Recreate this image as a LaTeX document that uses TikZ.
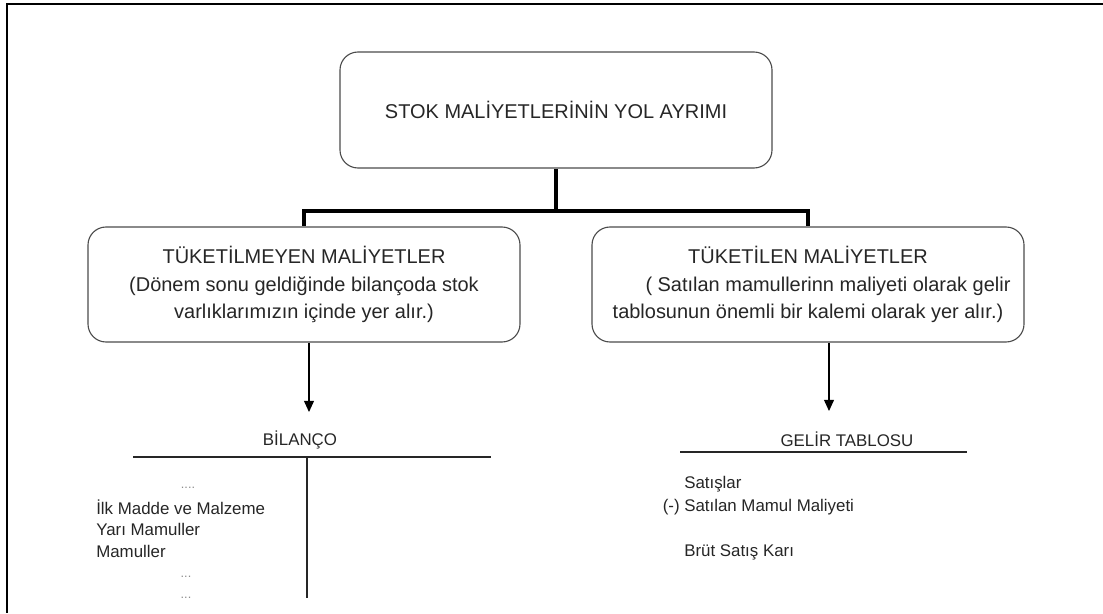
\documentclass[tikz,border=0pt]{standalone}
\usepackage{fontspec}
\setmainfont{Liberation Sans}
\usetikzlibrary{arrows.meta, positioning, calc}

\tikzset{
    costbox/.style={draw=black!70, line width=0.8pt, rounded corners=0.45cm, align=center,
        minimum width=10.8cm, minimum height=2.9cm, inner sep=0pt, text=black!85,
        font=\fontsize{14.2pt}{19.6pt}\selectfont},
    trunk/.style={line width=2.2pt},
    flow/.style={line width=0.8pt, -{Triangle[length=0.28cm, width=0.25cm]}},
    ledger/.style={line width=0.8pt, black!85},
    entry/.style={inner sep=0pt, text=black!85, font=\fontsize{12pt}{15.6pt}\selectfont},
    dots/.style={entry, text=black!45, font=\fontsize{9pt}{10pt}\selectfont}
}

\begin{document}
\begin{tikzpicture}
    \useasboundingbox (0, 0) rectangle (27.575, -15.325);
    % page frame
    \draw[line width=1.8pt] (27.575, -0.1) -- (0.175, -0.1) -- (0.175, -15.325);

    \node[costbox] (sm) at (13.9, -2.75) {STOK MAL\.{I}YETLER\.{I}N\.{I}N YOL AYRIMI};
    \node[costbox, minimum height=2.875cm] (tmy) at (7.6, -7.1125) {T\"UKET\.{I}LMEYEN MAL\.{I}YETLER\\(D\"onem sonu geldi\u{g}inde bilan\c{c}oda stok\\varl\i klar\i m\i z\i n i\c{c}inde yer al\i r.)};
    \node[costbox, minimum height=2.875cm] (tm) at (20.2, -7.1125) {T\"UKET\.{I}LEN MAL\.{I}YETLER\\\hspace*{1cm}( Sat\i lan mamullerinn maliyeti olarak gelir\\tablosunun \"onemli bir kalemi olarak yer al\i r.)};

    \coordinate (split) at (13.9, -5.275);
    \draw[trunk] (sm.south) -- (split) -| (tmy.north);
    \draw[trunk] (split) -| (tm.north);

    % balance sheet
    \coordinate (bt) at (7.725, -10.3);
    \draw[flow] (tmy.south -| bt) -- (bt);
    \node[entry] (bil) at (7.5, -11.0) {B\.{I}LAN\c{C}O};
    \coordinate (bill) at (3.325, -11.425);
    \coordinate (bilr) at (12.275, -11.425);
    \coordinate (bilm) at (7.675, -11.425);
    \coordinate (bilb) at (7.675, -14.95);
    \draw[ledger] (bill) -- (bilr);
    \draw[ledger] (bilm) -- (bilb);

    \node[dots] (d1) at (4.7, -12.2) {....};
    \node[entry, anchor=west] (ilk) at (2.4, -12.675) {\.{I}lk Madde ve Malzeme};
    \node[entry, anchor=west] (yari) at (2.4, -13.225) {Yar\i\ Mamuller};
    \node[entry, anchor=west] (mam) at (2.4, -13.775) {Mamuller};
    \node[dots] (d2) at (4.65, -14.425) {...};
    \node[dots] (d3) at (4.65, -14.95) {...};

    % income statement
    \coordinate (gtt) at (20.725, -10.275);
    \draw[flow] (tm.south -| gtt) -- (gtt);
    \node[entry] (gt) at (21.175, -10.975) {GEL\.{I}R TABLOSU};
    \coordinate (gtl) at (17.0, -11.3);
    \coordinate (gtr) at (24.175, -11.3);
    \draw[ledger] (gtl) -- (gtr);

    \node[entry, anchor=west] (sat) at (17.1, -12.1) {Sat\i\c{s}lar};
    \node[entry, anchor=east] (eksi) at (17.0, -12.675) {(-)};
    \node[entry, anchor=west] (smm) at (17.1, -12.675) {Sat\i lan Mamul Maliyeti};
    \node[entry, anchor=west] (bsk) at (17.1, -13.8) {Br\"ut Sat\i\c{s} Kar\i};
\end{tikzpicture}
\end{document}
